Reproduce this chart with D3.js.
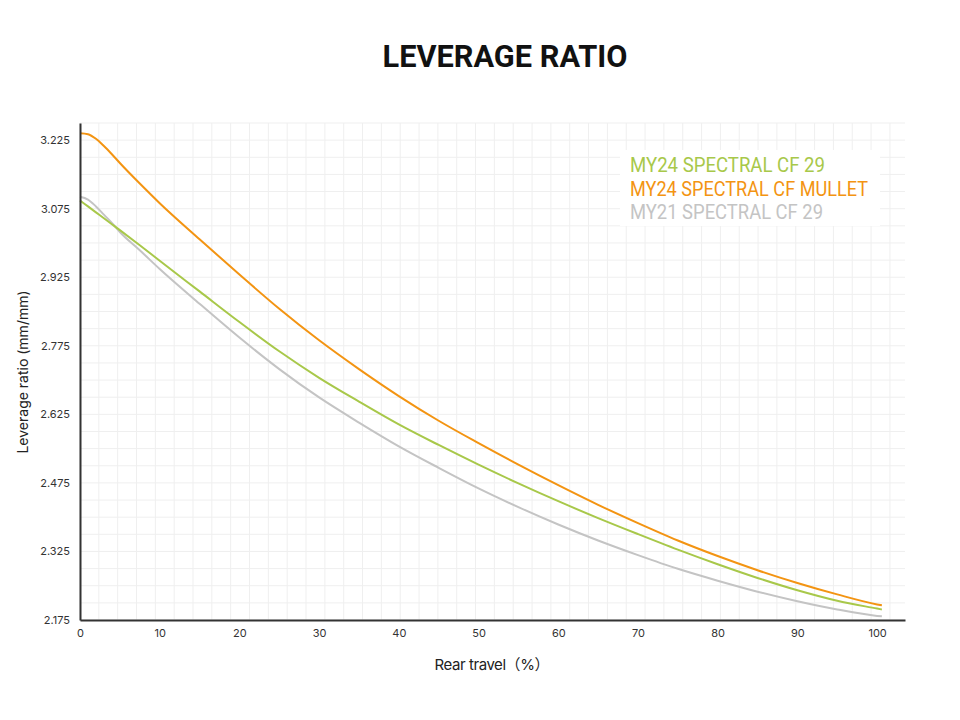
<!DOCTYPE html>
<html><head><meta charset="utf-8">
<script src="https://cdn.jsdelivr.net/npm/d3@7"></script>
<style>body{margin:0;background:#fff}svg{display:block}</style>
</head><body>
<svg id="c" width="960" height="720"></svg>
<script>
const travel = [0,1,2,3,4,5,7.5,10,15,20,25,30,35,40,45,50,55,60,65,70,75,80,85,90,95,100,100.6];
const my24cf29 = [3.093,3.080,3.067,3.054,3.041,3.028,2.995,2.961,2.894,2.827,2.763,2.705,2.653,2.603,2.558,2.515,2.474,2.435,2.398,2.363,2.329,2.297,2.267,2.240,2.217,2.200,2.198];
const my24mullet = [3.240,3.238,3.228,3.212,3.194,3.175,3.130,3.087,3.008,2.931,2.856,2.787,2.724,2.665,2.611,2.562,2.515,2.470,2.427,2.387,2.349,2.315,2.284,2.256,2.231,2.209,2.207];
const my21cf29 = [3.101,3.095,3.080,3.062,3.044,3.024,2.984,2.943,2.867,2.793,2.724,2.662,2.607,2.555,2.508,2.463,2.422,2.384,2.349,2.317,2.287,2.261,2.237,2.216,2.198,2.184,2.183];
const seriesNames = ["MY24 SPECTRAL CF 29","MY24 SPECTRAL CF MULLET","MY21 SPECTRAL CF 29"];
const seriesColors = ["#a8c84a","#f39412","#c4c4c4"];
const yTicks = [2.175,2.325,2.475,2.625,2.775,2.925,3.075,3.225];
const xTicks = [0,10,20,30,40,50,60,70,80,90,100];

const svg = d3.select("#c");
const x = d3.scaleLinear().domain([0,103.5]).range([80,905]);
const y = d3.scaleLinear().domain([2.175,3.2625]).range([620,123]);

// grid
const g = svg.append("g");
const hGrid = d3.range(2.175, 3.2626, 0.0375);
g.selectAll("line.h").data(hGrid).join("line")
  .attr("x1",x(0)).attr("x2",x(103.5)).attr("y1",d=>y(d)).attr("y2",d=>y(d))
  .attr("stroke","#efefef").attr("stroke-width",1);
const vGrid = d3.range(0, 103.6, 2.363);
g.selectAll("line.v").data(vGrid).join("line")
  .attr("x1",d=>x(d)).attr("x2",d=>x(d)).attr("y1",y(2.175)).attr("y2",y(3.2625))
  .attr("stroke","#efefef").attr("stroke-width",1);

// legend background
svg.append("rect").attr("x",620).attr("y",150).attr("width",260).attr("height",76).attr("fill","#fff");

// lines
const data = [my24cf29, my24mullet, my21cf29];
const line = d3.line().x((d,i)=>x(travel[i])).y(d=>y(d)).curve(d3.curveMonotoneX);
[2,0,1].forEach(k=>{
  svg.append("path").datum(data[k]).attr("d",line)
    .attr("fill","none").attr("stroke",seriesColors[k]).attr("stroke-width",2);
});

// axes
const yAxis = svg.append("g").attr("transform","translate(80,0)")
  .call(d3.axisLeft(y).tickValues(yTicks).tickSize(0).tickPadding(10).tickFormat(d3.format(".3f")));
const xAxis = svg.append("g").attr("transform","translate(0,620)")
  .call(d3.axisBottom(x).tickValues(xTicks).tickSize(0).tickPadding(9).tickFormat(d3.format("d")));
[yAxis,xAxis].forEach(a=>{
  a.select(".domain").attr("stroke","#333").attr("stroke-width",2);
  a.selectAll("text").attr("font-family","Inter, 'Open Sans', sans-serif").attr("font-size",11).attr("fill","#333");
});

// legend
const legendWidths = [195,238,193];
seriesNames.forEach((n,i)=>{
  svg.append("text").attr("x",630).attr("y",172+i*23.5).text(n)
    .attr("font-family","Roboto, sans-serif").attr("font-size",19.5)
    .attr("fill",seriesColors[i]).attr("textLength", legendWidths[i]).attr("lengthAdjust","spacingAndGlyphs");
});

// title
svg.append("text").attr("x",505).attr("y",67).attr("text-anchor","middle")
  .attr("font-family","Roboto, sans-serif").attr("font-weight",700).attr("font-size",31)
  .attr("fill","#111").attr("textLength",245).attr("lengthAdjust","spacingAndGlyphs").text("LEVERAGE RATIO");

// axis titles
svg.append("text").attr("transform","translate(28,372) rotate(-90)").attr("text-anchor","middle")
  .attr("font-family","Inter, 'Noto Sans', sans-serif").attr("font-size",14).attr("fill","#222")
  .text("Leverage ratio (mm/mm)");
svg.append("text").attr("x",492).attr("y",670).attr("text-anchor","middle")
  .attr("font-family","Inter, 'Noto Sans', 'Noto Sans CJK SC', sans-serif").attr("font-size",15).attr("fill","#222")
  .attr("textLength",115).attr("lengthAdjust","spacing")
  .text("Rear travel（%）");
</script>
</body></html>
